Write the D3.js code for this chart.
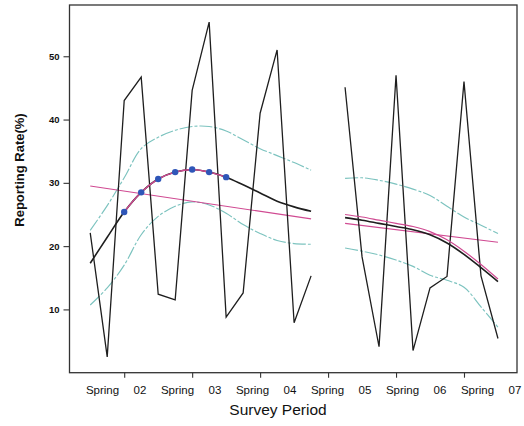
<!DOCTYPE html>
<html>
<head>
<meta charset="utf-8">
<script src="https://cdn.jsdelivr.net/npm/d3@7"></script>
<style>
  html, body { margin: 0; padding: 0; background: #fff; }
  svg { display: block; }
</style>
</head>
<body>
<svg id="chart" width="524" height="426"></svg>
<script>
// Quarterly survey index (0 = first survey quarter) for each segment
const quartersA = [0, 1, 2, 3, 4, 5, 6, 7, 8, 9, 10, 11, 12, 13];
const quartersB = [15, 16, 17, 18, 19, 20, 21, 22, 23, 24];

// Observed reporting rate (%)
const rateA = [22.1, 2.5, 43.0, 46.7, 12.4, 11.5, 44.6, 55.4, 8.8, 12.6, 41.0, 51.0, 7.9, 15.3];
const rateB = [45.1, 18.3, 4.1, 47.0, 3.5, 13.4, 15.2, 46.0, 15.3, 5.4];

// Smoothed trend and its confidence band
const fitA   = [17.3, 21.4, 25.4, 28.5, 30.6, 31.7, 32.1, 31.7, 30.9, 29.7, 28.4, 27.1, 26.2, 25.5];
const upperA = [22.5, 26.4, 30.8, 35.4, 37.2, 38.3, 38.9, 38.9, 38.2, 36.8, 35.4, 34.3, 33.2, 32.0];
const lowerA = [10.7, 13.4, 17.0, 21.8, 24.7, 26.3, 27.0, 26.5, 25.2, 23.4, 22.0, 20.9, 20.4, 20.3];
const fitB   = [24.5, 24.1, 23.6, 23.1, 22.6, 21.8, 20.5, 18.7, 16.6, 14.4];
const altFitB = [25.0, 24.6, 24.1, 23.6, 23.1, 22.3, 21.0, 19.2, 17.1, 14.8];
const upperB = [30.7, 30.8, 30.4, 29.8, 29.0, 28.0, 26.3, 24.6, 23.3, 22.0];
const lowerB = [19.7, 19.2, 18.6, 17.8, 16.8, 15.4, 14.6, 13.5, 10.4, 7.2];

// Highlighted quarters on the smoothed trend (first segment)
const markedQuarters = [2, 3, 4, 5, 6, 7, 8];

// Linear trend end points per segment
const linearA = [[0, 29.5], [13, 24.3]];
const linearB = [[15, 23.6], [24, 20.6]];

// Axis ticks and labels
const yTicks = [10, 20, 30, 40, 50];
const xTicks = [2, 6, 10, 14, 18, 22];
const xLabels = ["Spring", "02", "Spring", "03", "Spring", "04", "Spring", "05", "Spring", "06", "Spring", "07"];

const svg = d3.select("#chart");
const plot = { left: 69.5, right: 517, top: 5, bottom: 372.7 };

const x = d3.scaleLinear().domain([-1.22, 25.12]).range([plot.left, plot.right]);
const y = d3.scaleLinear().domain([0, 58.1]).range([plot.bottom, plot.top]);
const xLab = d3.scalePoint().domain(d3.range(xLabels.length)).range([102.5, 515]);

const pair = (qs, vs) => qs.map((q, i) => [q, vs[i]]);
const straight = d3.line().x(d => x(d[0])).y(d => y(d[1]));
const smooth = d3.line().x(d => x(d[0])).y(d => y(d[1])).curve(d3.curveCatmullRom.alpha(0.5));

const colBlack = "#1e1e1e";
const colTeal = "#7cc3bf";
const colPink = "#d04a92";
const colBlue = "#2f56b8";

const g = svg.append("g");

// Confidence band (long dash, dot)
[[quartersA, upperA], [quartersA, lowerA], [quartersB, upperB], [quartersB, lowerB]].forEach(([q, v]) => {
  g.append("path")
    .attr("d", smooth(pair(q, v)))
    .attr("fill", "none")
    .attr("stroke", colTeal)
    .attr("stroke-width", 1.15)
    .attr("stroke-dasharray", "13,2,3,2");
});

// Linear trends
[linearA, linearB].forEach(seg => {
  g.append("path")
    .attr("d", straight(seg))
    .attr("fill", "none")
    .attr("stroke", colPink)
    .attr("stroke-width", 1.1);
});

// Observed series
[[quartersA, rateA], [quartersB, rateB]].forEach(([q, v]) => {
  g.append("path")
    .attr("d", straight(pair(q, v)))
    .attr("fill", "none")
    .attr("stroke", colBlack)
    .attr("stroke-width", 1.3)
    .attr("stroke-linejoin", "miter");
});

// Smoothed trends
[[quartersA, fitA], [quartersB, fitB]].forEach(([q, v]) => {
  g.append("path")
    .attr("d", smooth(pair(q, v)))
    .attr("fill", "none")
    .attr("stroke", colBlack)
    .attr("stroke-width", 1.6);
});

// Alternative smooth over second segment
g.append("path")
  .attr("d", smooth(pair(quartersB, altFitB)))
  .attr("fill", "none")
  .attr("stroke", colPink)
  .attr("stroke-width", 1.2);

// Highlighted part of the first smooth
const markedPts = markedQuarters.map(q => [q, fitA[quartersA.indexOf(q)]]);
g.append("path")
  .attr("d", smooth(markedPts))
  .attr("fill", "none")
  .attr("stroke", colPink)
  .attr("stroke-width", 1.4);

g.selectAll("circle.mark")
  .data(markedPts)
  .enter().append("circle")
  .attr("class", "mark")
  .attr("cx", d => x(d[0]))
  .attr("cy", d => y(d[1]))
  .attr("r", 3.2)
  .attr("fill", colBlue);

// Frame
svg.append("rect")
  .attr("x", plot.left)
  .attr("y", plot.top)
  .attr("width", plot.right - plot.left)
  .attr("height", plot.bottom - plot.top)
  .attr("fill", "none")
  .attr("stroke", "#333")
  .attr("stroke-width", 1.3);

// Y axis
const yAxis = svg.append("g")
  .attr("transform", `translate(${plot.left},0)`)
  .call(d3.axisLeft(y).tickValues(yTicks).tickSize(6).tickPadding(4).tickFormat(d3.format("d")));
yAxis.select(".domain").remove();
yAxis.selectAll("line").attr("stroke", "#333").attr("stroke-width", 1.1);
yAxis.selectAll("text")
  .attr("fill", "#111")
  .style("font-family", "Liberation Sans, Arial, sans-serif")
  .style("font-size", "9.5px")
  .style("font-weight", "bold");

// X axis ticks
const xAxis = svg.append("g")
  .attr("transform", `translate(0,${plot.bottom})`)
  .call(d3.axisBottom(x).tickValues(xTicks).tickSize(5).tickFormat(""));
xAxis.select(".domain").remove();
xAxis.selectAll("line").attr("stroke", "#333").attr("stroke-width", 1.1);

// X labels
svg.append("g").selectAll("text")
  .data(xLabels)
  .enter().append("text")
  .attr("x", (d, i) => xLab(i))
  .attr("y", 394)
  .attr("text-anchor", "middle")
  .attr("fill", "#111")
  .style("font-family", "Liberation Sans, Arial, sans-serif")
  .style("font-size", "11.5px")
  .text(d => d);

// Axis titles
svg.append("text")
  .attr("x", 278)
  .attr("y", 415)
  .attr("text-anchor", "middle")
  .attr("fill", "#111")
  .style("font-family", "Liberation Sans, Arial, sans-serif")
  .style("font-size", "15.5px")
  .text("Survey Period");

svg.append("text")
  .attr("transform", "translate(24,170) rotate(-90)")
  .attr("text-anchor", "middle")
  .attr("fill", "#111")
  .style("font-family", "Liberation Sans, Arial, sans-serif")
  .style("font-size", "13px")
  .style("font-weight", "bold")
  .text("Reporting Rate(%)");
</script>
</body>
</html>
